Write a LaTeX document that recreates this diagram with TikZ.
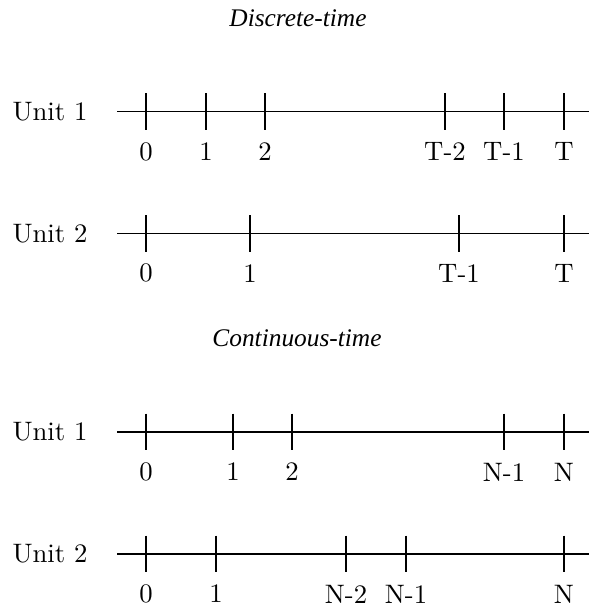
\documentclass[tikz,border=0pt]{standalone}
\usepackage{fontspec}
\newfontfamily\titlefont{Liberation Serif}
\begin{document}
\begin{tikzpicture}[x=0.3745pt,y=-0.3745pt,
  axisline/.style={line width=0.4pt},
  tickmark/.style={line width=0.4pt},
  ticklabel/.style={font=\fontsize{10}{12}\selectfont, inner sep=0pt, anchor=center},
  unitlabel/.style={font=\fontsize{10}{12}\selectfont, inner sep=0pt, anchor=west},
  titlelabel/.style={font=\titlefont\itshape\fontsize{9.5}{11}\selectfont, inner sep=0pt, anchor=center}]
\useasboundingbox (0,0) rectangle (589,606);

% titles
\node[titlelabel] (t1) at (298,18.5) {Discrete-time};
\node[titlelabel] (t2) at (297,338) {Continuous-time};

% generic row macro via foreach
\foreach \row/\yy/\unit/\ticks in {
  a/111.7/Unit 1/{146/0,206/1,265/2,445/T-2,504/T-1,564/T},
  b/233.3/Unit 2/{146/0,250/1,459/T-1,564/T},
  c/432/Unit 1/{146/0,233/1,292/2,504/N-1,564/N},
  d/554/Unit 2/{146/0,216/1,346/N-2,406/N-1,564/N}} {
  \node[unitlabel] (u\row) at (12,\yy) {\unit};
  \coordinate (s\row) at (117.3,\yy);
  \coordinate (e\row) at (589,\yy);
  \draw[axisline] (s\row) -- (e\row);
  \foreach \xx/\lab [count=\k] in \ticks {
    \coordinate (top\row\k) at (\xx,\yy-18.3);
    \coordinate (bot\row\k) at (\xx,\yy+18.3);
    \draw[tickmark] (top\row\k) -- (bot\row\k);
    \node[ticklabel] (l\row\k) at (\xx,\yy+40) {\lab};
  }
}
\end{tikzpicture}
\end{document}
